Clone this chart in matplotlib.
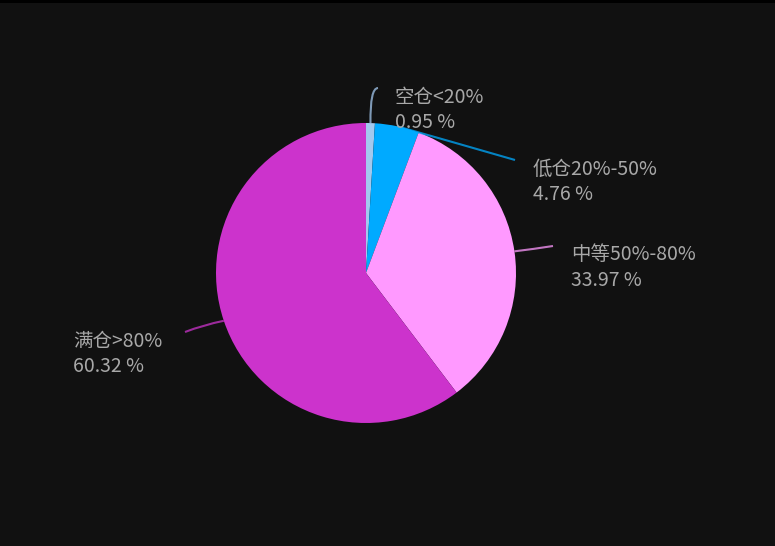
import numpy as np
import matplotlib
matplotlib.use("Agg")
import matplotlib.pyplot as plt
from matplotlib.path import Path
from matplotlib.patches import PathPatch, Rectangle

plt.rcParams['font.family'] = ['Noto Sans CJK SC', 'DejaVu Sans']

# ---- data ----
categories = ['空仓<20%', '低仓20%-50%', '中等50%-80%', '满仓>80%']
values = [0.95, 4.76, 33.97, 60.32]
colors = ['#a3c8ee', '#00aaff', '#ff99ff', '#cc33cc']

W, H = 775, 546
fig = plt.figure(figsize=(W / 100, H / 100), dpi=100, facecolor='#111111')
ax = fig.add_axes([0, 0, 1, 1])
ax.set_facecolor('#111111')

cx, cy, R = 366, 273, 150
ax.pie(values, colors=colors, startangle=-90, counterclock=True,
       center=(cx, cy), radius=R, frame=True,
       wedgeprops=dict(linewidth=0))
ax.set_xlim(0, W)
ax.set_ylim(H, 0)
ax.set_aspect('equal')
ax.axis('off')

# label layout (pixel positions): curve control point, line end, text x
layout = [
    dict(ctrl=(370, 88), end=(378, 88), tx=395),
    dict(ctrl=(456, 143), end=(515, 160), tx=533),
    dict(ctrl=(534, 249), end=(553, 246), tx=571),
    dict(ctrl=(203, 325), end=(185, 332), tx=73),
]

total = sum(values)
cum = 0.0
for name, v, col, lay in zip(categories, values, colors, layout):
    mid = (cum + v / 2) / total * 2 * np.pi
    cum += v
    sx = cx + R * np.sin(mid)
    sy = cy - R * np.cos(mid)
    verts = [(sx, sy), lay['ctrl'], lay['end']]
    path = Path(verts, [Path.MOVETO, Path.CURVE3, Path.CURVE3])
    ax.add_patch(PathPatch(path, facecolor='none', edgecolor=col, lw=1.5, alpha=0.75, zorder=3))
    ey = lay['end'][1]
    ax.text(lay['tx'], ey + 9, name, color='#a8a8a8', fontsize=14, ha='left', va='center', zorder=4)
    ax.text(lay['tx'], ey + 34, f'{v:.2f}\u2009%'.replace('\u2009', ' '), color='#a8a8a8',
            fontsize=14, ha='left', va='center', zorder=4)

fig.patches.append(Rectangle((0, 1 - 2.5 / H), 1, 2.5 / H, transform=fig.transFigure,
                             facecolor='#000000', edgecolor='none'))
fig.savefig('out.png', dpi=100, facecolor=fig.get_facecolor())
